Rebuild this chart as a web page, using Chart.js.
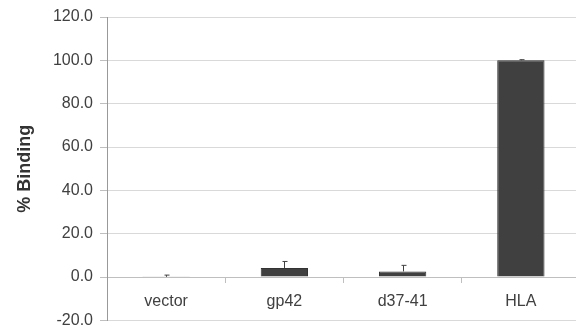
<!DOCTYPE html>
<html>
<head>
<meta charset="utf-8">
<script src="https://cdn.jsdelivr.net/npm/chart.js@4"></script>
<style>
  body { margin: 0; background: #fff; overflow: hidden; }
  #wrap { width: 580px; height: 337px; }
</style>
</head>
<body>
<div id="wrap"><canvas id="chart"></canvas></div>
<script>
// données
const categories = ["vector", "gp42", "d37-41", "HLA"];
const binding = [0.1, 4.2, 2.6, 100.0];
const erreurs = [0.8, 3.0, 2.8, 0.3];

// barres d'erreur (seulement vers le haut)
const errorBars = {
  id: "errorBars",
  afterDatasetsDraw(chart) {
    const ctx = chart.ctx;
    const meta = chart.getDatasetMeta(0);
    const yScale = chart.scales.y;
    ctx.save();
    ctx.strokeStyle = "#404040";
    ctx.lineWidth = 1;
    meta.data.forEach((bar, i) => {
      const x = Math.round(bar.x) + 0.5;
      const yTop = yScale.getPixelForValue(binding[i] + erreurs[i]);
      const yBase = yScale.getPixelForValue(binding[i]);
      ctx.beginPath();
      ctx.moveTo(x, yBase);
      ctx.lineTo(x, yTop);
      ctx.moveTo(x - 2, yTop);
      ctx.lineTo(x + 3, yTop);
      ctx.stroke();
    });
    ctx.restore();
  },
};

new Chart(document.getElementById("chart"), {
  type: "bar",
  data: {
    labels: categories,
    datasets: [
      {
        data: binding,
        backgroundColor: "#404040",
        borderColor: "#333333",
        borderWidth: 1,
        barPercentage: 0.4,
        categoryPercentage: 1,
      },
    ],
  },
  options: {
    responsive: true,
    maintainAspectRatio: false,
    animation: false,
    layout: { padding: { top: 17, bottom: 13, left: 8, right: 0 } },
    plugins: {
      legend: { display: false },
      tooltip: { enabled: false },
    },
    scales: {
      x: {
        position: { y: 0 },
        grid: {
          drawOnChartArea: false,
          drawTicks: true,
          tickLength: 5,
          tickColor: "#bfbfbf",
          offset: true,
        },
        border: { color: "#bfbfbf", width: 1 },
        ticks: {
          color: "#404040",
          font: { family: "Liberation Sans, Arial", size: 16 },
          padding: 10,
        },
        afterFit(scale) {
          scale.height = 0;
        },
      },
      y: {
        min: -20,
        max: 120,
        ticks: {
          stepSize: 20,
          color: "#404040",
          font: { family: "Liberation Sans, Arial", size: 16 },
          padding: 7,
          callback: (v) => v.toFixed(1),
        },
        grid: {
          color: "#d9d9d9",
          tickColor: "#bfbfbf",
          tickLength: 7,
        },
        border: { color: "#999999", width: 1 },
        title: {
          display: true,
          text: "% Binding",
          color: "#333333",
          font: { family: "Liberation Sans, Arial", size: 18, weight: "bold" },
          padding: { top: 6, bottom: 8 },
        },
        afterFit(scale) {
          scale.width = 99;
        },
      },
    },
  },
  plugins: [errorBars],
});
</script>
</body>
</html>
